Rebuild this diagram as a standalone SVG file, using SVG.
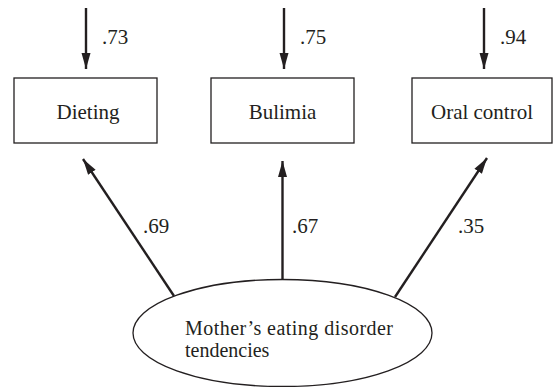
<svg xmlns="http://www.w3.org/2000/svg" width="553" height="387" viewBox="0 0 553 387">
  <style>
    .box { fill: #ffffff; stroke: #231f20; stroke-width: 1.3; }
    .lbl { font-family: "Liberation Serif", "Times New Roman", serif; font-size: 21px; fill: #231f20; }
    .inner { font-family: "Liberation Serif", "Times New Roman", serif; font-size: 20px; fill: #231f20; }
    .edge { stroke: #231f20; stroke-width: 2.4; fill: none; }
  </style>
  <defs>
    <marker id="arrow" markerUnits="userSpaceOnUse" markerWidth="18" markerHeight="10" refX="16" refY="5" orient="auto">
      <path d="M0,0.5 L16,5 L0,9.5 z" fill="#231f20"/>
    </marker>
  </defs>
  <rect width="553" height="387" fill="#ffffff"/>

  <g id="node-dieting">
    <rect class="box" x="14" y="78" width="143" height="65"/>
    <text class="lbl" x="88" y="119" text-anchor="middle">Dieting</text>
  </g>
  <g id="node-bulimia">
    <rect class="box" x="211" y="78" width="143" height="65"/>
    <text class="lbl" x="282.5" y="119" text-anchor="middle">Bulimia</text>
  </g>
  <g id="node-oral">
    <rect class="box" x="412" y="78" width="140" height="65"/>
    <text class="lbl" x="482" y="119" text-anchor="middle">Oral control</text>
  </g>
  <g id="node-mother">
    <ellipse class="box" cx="282.5" cy="333" rx="149.5" ry="53.5"/>
    <text class="inner" x="185" y="334.5" textLength="208" lengthAdjust="spacing">Mother’s eating disorder</text>
    <text class="inner" x="185" y="356.5">tendencies</text>
  </g>

  <g id="connectors">
    <line class="edge" x1="86" y1="8" x2="86" y2="69" marker-end="url(#arrow)"/>
    <line class="edge" x1="284" y1="8" x2="284" y2="69" marker-end="url(#arrow)"/>
    <line class="edge" x1="484" y1="8" x2="484" y2="69" marker-end="url(#arrow)"/>
    <line class="edge" x1="174" y1="296" x2="83" y2="159" marker-end="url(#arrow)"/>
    <line class="edge" x1="282.5" y1="279.5" x2="282.5" y2="161" marker-end="url(#arrow)"/>
    <line class="edge" x1="395" y1="297" x2="487" y2="158" marker-end="url(#arrow)"/>
    <text class="lbl" x="102" y="44">.73</text>
    <text class="lbl" x="300" y="44">.75</text>
    <text class="lbl" x="500" y="44">.94</text>
    <text class="lbl" x="143" y="233">.69</text>
    <text class="lbl" x="292" y="233">.67</text>
    <text class="lbl" x="458" y="233">.35</text>
  </g>
</svg>
